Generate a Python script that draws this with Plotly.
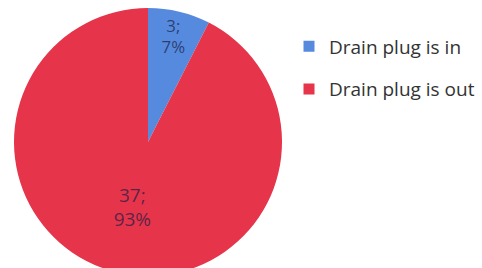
import plotly.graph_objects as go

labels = ["Drain plug is in", "Drain plug is out"]
values = [3, 37]
percent_labels = ["7%", "93%"]
colors = ["#558ade", "#e6344a"]

# window is 482x268; the pie in the reference runs past the bottom edge
W, H = 482, 276
top = 8
cx, r = 148, (H - top) / 2

texts = [f"{v};<br>{p}" for v, p in zip(values, percent_labels)]

fig = go.Figure()
fig.add_trace(go.Pie(
    labels=labels, values=values, text=texts, textinfo="text",
    sort=False, direction="clockwise", rotation=0,
    marker=dict(colors=colors, line=dict(width=0)),
    insidetextfont=dict(family="Open Sans", size=19, color="rgba(30,30,70,0.72)"),
    textposition="inside", insidetextorientation="horizontal",
    showlegend=False, hoverinfo="label+value+percent",
    domain=dict(x=[(cx - r) / W, (cx + r) / W], y=[0, 1]),
))
for lab, col in zip(labels, colors):
    fig.add_trace(go.Scatter(
        x=[None], y=[None], mode="markers", name=lab, legendgroup=lab,
        marker=dict(symbol="square", size=11, color=col),
    ))

plot_h = H - top
fig.update_layout(
    width=W, height=H,
    margin=dict(l=0, r=0, t=top, b=0, autoexpand=False),
    paper_bgcolor="white", plot_bgcolor="white",
    xaxis=dict(visible=False), yaxis=dict(visible=False),
    legend=dict(x=289 / W, y=1 - 19.4 / plot_h, xanchor="left", yanchor="top",
                font=dict(family="Open Sans", size=19, color="#333333"),
                tracegroupgap=15, itemwidth=30, bgcolor="rgba(0,0,0,0)"),
    showlegend=True,
)
fig.write_html(
    "out.html",
    config={"displayModeBar": False},
    post_script="document.body.style.margin='0';"
                "document.body.style.overflow='hidden';"
                "document.documentElement.style.overflow='hidden';",
)
